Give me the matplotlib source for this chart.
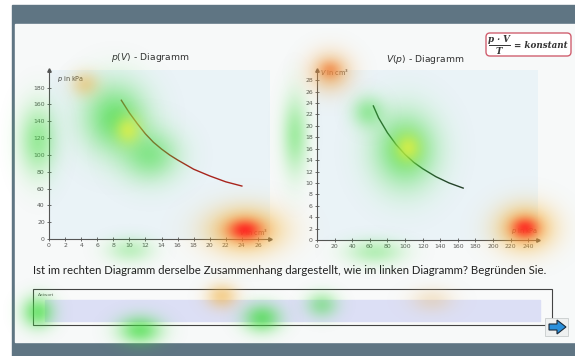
import numpy as np
import matplotlib
matplotlib.use("Agg")
import matplotlib.pyplot as plt
from matplotlib.patches import Rectangle, FancyBboxPatch, Polygon
from matplotlib.colors import to_rgb

W, H = 575, 356

# --- chart data ---
left_V = [9, 10, 11, 12, 13, 14, 15, 16, 18, 20, 22, 24]
left_p = [165, 150, 137, 125, 115, 107, 100, 94, 83, 75, 68, 63]
left_xticks = list(range(0, 27, 2))
left_yticks = list(range(0, 181, 20))

right_p = [64, 70, 80, 90, 100, 110, 120, 135, 150, 166]
right_V = [23.5, 21.4, 18.8, 16.7, 15.0, 13.6, 12.5, 11.1, 10.0, 9.1]
right_xticks = list(range(0, 241, 20))
right_yticks = list(range(0, 29, 2))

question = ("Ist im rechten Diagramm derselbe Zusammenhang dargestellt, "
            "wie im linken Diagramm? Begründen Sie.")

# gaze heatmap spots (pixel centre, spread, colour, strength)
spot_x = [115, 150, 128, 38, 85, 245, 245, 130,
          405, 408, 368, 295, 330, 330, 525, 525, 375,
          38, 140, 262, 322, 222, 432]
spot_y = [118, 155, 130, 140, 84, 230, 230, 250,
          150, 148, 112, 135, 72, 70, 228, 228, 252,
          312, 330, 318, 305, 296, 300]
spot_rx = [22, 20, 9, 13, 10, 26, 11, 16,
           22, 9, 11, 9, 15, 7, 20, 9, 20,
           11, 15, 13, 11, 11, 15]
spot_ry = [24, 18, 10, 24, 9, 16, 7, 9,
           26, 10, 11, 27, 14, 6, 16, 7, 9,
           11, 10, 10, 9, 9, 9]
spot_color = ["#3fdc3f", "#3fdc3f", "#e8f040", "#3fdc3f", "#f0b040",
              "#f5b030", "#ff2020", "#3fdc3f",
              "#3fdc3f", "#e8f040", "#3fdc3f", "#3fdc3f", "#f0a040",
              "#f07030", "#f5b030", "#ff2020", "#3fdc3f",
              "#3fdc3f", "#3fdc3f", "#3fdc3f", "#3fdc3f", "#f0b040", "#e8c080"]
spot_alpha = [0.7, 0.55, 0.7, 0.5, 0.45, 0.8, 0.9, 0.3,
              0.7, 0.75, 0.45, 0.45, 0.6, 0.5, 0.8, 0.85, 0.35,
              0.7, 0.7, 0.7, 0.45, 0.55, 0.35]


def px_rect(x0, y0, x1, y1):
    """pixel box (top-left origin) -> figure fraction rect"""
    return [x0 / W, 1 - y1 / H, (x1 - x0) / W, (y1 - y0) / H]


def style_axes(ax, xticks, yticks):
    ax.set_facecolor("#eaf3f7")
    for s in ("top", "right"):
        ax.spines[s].set_visible(False)
    for s in ("left", "bottom"):
        ax.spines[s].set_color("#555555")
        ax.spines[s].set_linewidth(0.8)
    ax.set_xticks(xticks)
    ax.set_yticks(yticks)
    ax.tick_params(direction="inout", length=3, width=0.6, colors="#555555",
                   labelsize=4.4, pad=1.5)
    ax.plot(1, 0, ">", color="#555555", ms=2.5, transform=ax.transAxes, clip_on=False)
    ax.plot(0, 1, "^", color="#555555", ms=2.5, transform=ax.transAxes, clip_on=False)


fig = plt.figure(figsize=(W / 100, H / 100), dpi=100)

# --- frame and page ---
bg = fig.add_axes([0, 0, 1, 1])
bg.set_xlim(0, W)
bg.set_ylim(H, 0)
bg.axis("off")
bg.add_patch(Rectangle((12, 5), W - 12, H - 5, color="#5f7583"))
bg.add_patch(Rectangle((15, 24), W - 15, 318, color="#f7f9f9"))

bg.text(150, 57, r"$p(V)$ - Diagramm", ha="center", va="center", fontsize=6.7, color="#333333")
bg.text(425, 60, r"$V(p)$ - Diagramm", ha="center", va="center", fontsize=6.7, color="#333333")

# formula box p*V/T = konstant, fraction built by hand
bg.add_patch(FancyBboxPatch((486, 33), 85, 23, boxstyle="round,pad=0,rounding_size=4",
                            fc="white", ec="#d06070", lw=1.0))
ffont = dict(family="DejaVu Serif", style="italic", weight="bold",
             color="#333333", va="center")
bg.text(499, 39, "p · V", ha="center", fontsize=6.3, **ffont)
bg.plot([489, 510], [45, 45], color="#333333", lw=0.7)
bg.text(499, 51, "T", ha="center", fontsize=6.3, **ffont)
bg.text(514, 45, "= konstant", ha="left", fontsize=6.3, **ffont)

bg.text(33, 270, question, ha="left", va="center", fontsize=8.2,
        family="Lato", color="#222222")

# answer box
bg.add_patch(Rectangle((33, 289), 519, 36, fc="#f9fafa", ec="#444444", lw=0.8))
bg.add_patch(Rectangle((45, 300), 495, 21, color="#dcdff5"))
bg.text(38, 295, "Antwort", fontsize=3.2, color="#555555", va="center", family="Lato")

# next button
bg.add_patch(Rectangle((545, 318), 23, 18, fc="#eef0f0", ec="#c8cccc", lw=0.6))
bg.add_patch(Polygon([(549, 324), (557, 324), (557, 320), (566, 327),
                      (557, 334), (557, 330), (549, 330)],
                     closed=True, fc="#2a90dc", ec="#1a2a3a", lw=0.8))

# --- p(V) plot ---
ax1 = fig.add_axes(px_rect(49, 70, 270, 239))
style_axes(ax1, left_xticks, left_yticks)
ax1.set_xlim(0, 27.5)
ax1.set_ylim(0, 201)
ax1.plot(left_V, left_p, color="#a8231c", lw=1.0)
ax1.text(1.0, 190, r"$p$ in kPa", fontsize=4.7, color="#444444", va="center")
ax1.text(23.6, 8, r"$V$ in cm³", fontsize=4.7, color="#444444", va="center")

# --- V(p) plot ---
ax2 = fig.add_axes(px_rect(317, 70, 538, 240))
style_axes(ax2, right_xticks, right_yticks)
ax2.set_xlim(0, 251)
ax2.set_ylim(0, 29.8)
ax2.plot(right_p, right_V, color="#24402a", lw=1.0)
ax2.text(3, 29.4, r"$V$ in cm³", fontsize=4.7, color="#444444", va="center")
ax2.text(220, 1.6, r"$p$ in kPa", fontsize=4.7, color="#444444", va="center")

# --- gaze heatmap overlay ---
ov = fig.add_axes([0, 0, 1, 1], zorder=10)
ov.set_xlim(0, W)
ov.set_ylim(H, 0)
ov.axis("off")
gx, gy = np.meshgrid(np.arange(W) + 0.5, np.arange(H) + 0.5)
for cx, cy, rx, ry, col, a in zip(spot_x, spot_y, spot_rx, spot_ry, spot_color, spot_alpha):
    layer = np.zeros((H, W, 4))
    layer[..., :3] = to_rgb(col)
    layer[..., 3] = a * np.exp(-((gx - cx) ** 2 / (2 * rx ** 2) + (gy - cy) ** 2 / (2 * ry ** 2)))
    ov.imshow(layer, extent=(0, W, H, 0), interpolation="bilinear")
ov.set_xlim(0, W)
ov.set_ylim(H, 0)

fig.savefig("out.png", dpi=100)
